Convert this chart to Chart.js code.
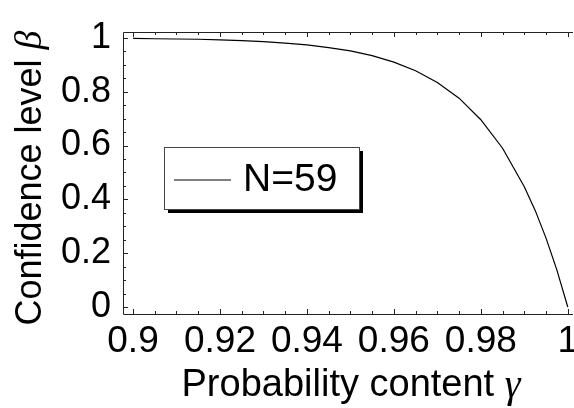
<!DOCTYPE html>
<html>
<head>
<meta charset="utf-8">
<title>Confidence level vs probability content</title>
<script src="https://cdn.jsdelivr.net/npm/chart.js@4/dist/chart.umd.min.js"></script>
<style>
  body{margin:0;background:#fff}
  #chartBox{width:574px;height:408px}
</style>
</head>
<body>
<div id="chartBox"><canvas id="confChart" width="574" height="408"></canvas></div>
<script>
// data
const gammaValues=[0.9,0.905,0.91,0.915,0.92,0.925,0.93,0.935,0.94,0.945,0.95,0.955,0.96,0.965,0.97,0.975,0.98,0.985,0.99,0.9925,0.995,0.9975,1.0]
const betaValues=[0.998,0.997,0.996,0.995,0.993,0.990,0.986,0.981,0.974,0.964,0.952,0.934,0.910,0.878,0.834,0.776,0.696,0.590,0.447,0.359,0.256,0.137,0.0]
const seriesLabel='N=59'
const xTickLabels=[0.9,0.92,0.94,0.96,0.98,1]
const yTickLabels=[0,0.2,0.4,0.6,0.8,1]

const sansFont='"Liberation Sans", Arial, sans-serif'
const greekFont='"Liberation Serif", "DejaVu Serif", serif'

let pointList=[]
gammaValues.forEach((g,i)=>{
    pointList.push({x:g,y:betaValues[i]})
})

// inward tick marks + frame lines (left, top, bottom)
const frameTicks={
    id:'frameTicks',
    afterDraw(chart){
        const ctx=chart.ctx
        const xs=chart.scales.x
        const ys=chart.scales.y
        const a=chart.chartArea
        ctx.save()
        ctx.strokeStyle='#222'
        ctx.lineWidth=1
        ctx.beginPath()
        ctx.moveTo(a.right,a.top+0.5)
        ctx.lineTo(a.left+0.5,a.top+0.5)
        ctx.lineTo(a.left+0.5,a.bottom+0.5)
        ctx.lineTo(a.right,a.bottom+0.5)
        ctx.stroke()

        ctx.beginPath()
        for(let k=0;k<=20;k++){
            const v=0.9+k*0.005
            const px=Math.round(xs.getPixelForValue(v))+0.5
            const len=(k%4==0)?5:3
            ctx.moveTo(px,a.bottom)
            ctx.lineTo(px,a.bottom-len)
            ctx.moveTo(px,a.top)
            ctx.lineTo(px,a.top+len)
        }
        for(let k=0;k<=20;k++){
            const v=k*0.05
            const py=Math.round(ys.getPixelForValue(v))+0.5
            const len=(k%4==0)?5:3
            ctx.moveTo(a.left,py)
            ctx.lineTo(a.left+len,py)
        }
        ctx.stroke()
        ctx.restore()
    }
}

// axis titles with italic greek letter
const axisTitles={
    id:'axisTitles',
    afterDraw(chart){
        const ctx=chart.ctx
        const drawTitle=(main,greek,size,cx,cy,rot)=>{
            ctx.save()
            ctx.translate(cx,cy)
            ctx.rotate(rot)
            ctx.fillStyle='#000'
            ctx.textBaseline='middle'
            ctx.font=size+'px '+sansFont
            const w1=ctx.measureText(main).width
            ctx.font='italic '+(size+2)+'px '+greekFont
            const w2=ctx.measureText(greek).width
            let x0=-(w1+w2)/2
            ctx.font=size+'px '+sansFont
            ctx.textAlign='left'
            ctx.fillText(main,x0,0)
            ctx.font='italic '+(size+2)+'px '+greekFont
            ctx.fillText(greek,x0+w1,0)
            ctx.restore()
        }
        drawTitle('Probability content ','γ',38,351,386,0)
        drawTitle('Confidence level ','β',36,31,178,-Math.PI/2)
    }
}

// boxed legend with drop shadow
const shadowLegend={
    id:'shadowLegend',
    afterDraw(chart){
        const ctx=chart.ctx
        const ds=chart.data.datasets[0]
        const bx=164,by=147,bw=195,bh=62
        ctx.save()
        ctx.fillStyle='#000'
        ctx.fillRect(bx+4,by+4,bw,bh)
        ctx.fillStyle='#fff'
        ctx.fillRect(bx,by,bw,bh)
        ctx.strokeStyle='#444'
        ctx.lineWidth=1
        ctx.strokeRect(bx+0.5,by+0.5,bw,bh)
        ctx.strokeStyle=ds.borderColor
        ctx.lineWidth=ds.borderWidth
        ctx.beginPath()
        ctx.moveTo(bx+10,by+33)
        ctx.lineTo(bx+67,by+33)
        ctx.stroke()
        ctx.fillStyle='#000'
        ctx.font='39px '+sansFont
        ctx.textBaseline='middle'
        ctx.fillText(ds.label,bx+79,by+33)
        ctx.restore()
    }
}

const ctxChart=document.getElementById('confChart').getContext('2d')
const confChart=new Chart(ctxChart,{
    type:'line',
    data:{
        datasets:[{
            label:seriesLabel,
            data:pointList,
            borderColor:'#000',
            borderWidth:1.2,
            pointRadius:0,
            tension:0,
            fill:false
        }]
    },
    plugins:[frameTicks,axisTitles,shadowLegend],
    options:{
        responsive:false,
        animation:false,
        layout:{padding:{left:0,top:32,right:1,bottom:0}},
        plugins:{legend:{display:false},tooltip:{enabled:false}},
        scales:{
            x:{
                type:'linear',
                min:0.8977,
                max:1.0012,
                afterFit:(scale)=>{
                    scale.height=94
                    scale.paddingLeft=0
                    scale.paddingRight=0
                },
                afterBuildTicks:(scale)=>{scale.ticks=xTickLabels.map(v=>({value:v}))},
                grid:{display:false,drawTicks:false},
                border:{display:false},
                ticks:{
                    color:'#000',
                    padding:6,
                    maxRotation:0,
                    autoSkip:false,
                    font:{family:sansFont,size:37},
                    callback:(v)=>String(+v.toFixed(2))
                }
            },
            y:{
                type:'linear',
                min:-0.026,
                max:1.022,
                afterFit:(scale)=>{
                    scale.width=123
                    scale.paddingTop=0
                    scale.paddingBottom=0
                },
                afterBuildTicks:(scale)=>{scale.ticks=yTickLabels.map(v=>({value:v}))},
                grid:{display:false,drawTicks:false},
                border:{display:false},
                ticks:{
                    color:'#000',
                    padding:12,
                    autoSkip:false,
                    font:{family:sansFont,size:36},
                    callback:(v)=>String(+v.toFixed(1))
                }
            }
        }
    }
})
</script>
</body>
</html>
